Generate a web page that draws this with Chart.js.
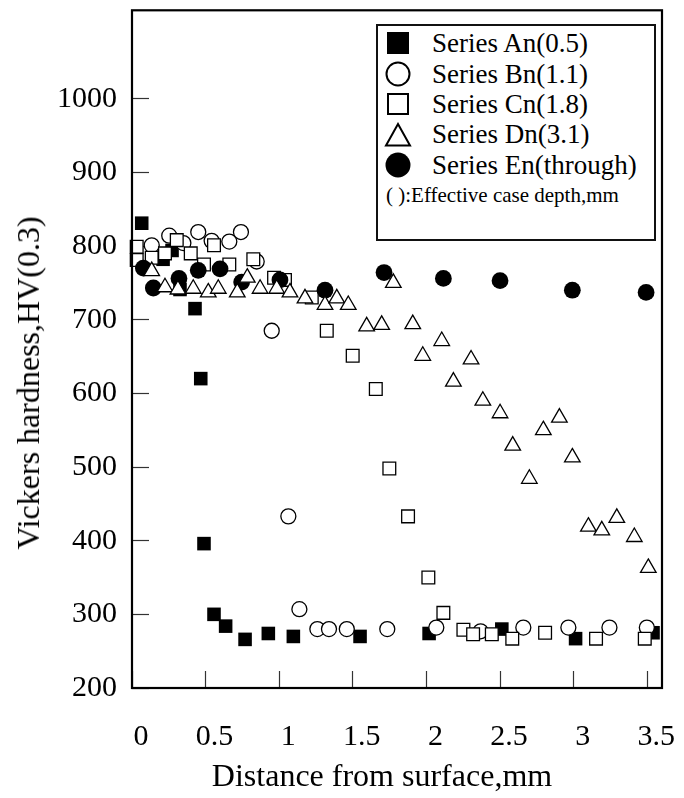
<!DOCTYPE html>
<html>
<head>
<meta charset="utf-8">
<script src="https://cdn.jsdelivr.net/npm/chart.js@4.4.1/dist/chart.umd.min.js"></script>
<style>
  html, body { margin: 0; padding: 0; background: #fff; }
  #wrap { position: relative; width: 684px; height: 798px; font-family: "Liberation Serif", "Times New Roman", serif; color: #000; }
  #hvChart { position: absolute; left: 0; top: 0; }
  .axis-title { position: absolute; font-size: 32px; line-height: 1; white-space: nowrap; transform: translate(-50%, -50%); }
  #yTitle { transform: translate(-50%, -50%) rotate(-90deg); }
  #legend { position: absolute; left: 376px; top: 24px; width: 280px; height: 217px; box-sizing: border-box; border: 2px solid #111; background: #fff; }
  .row { position: absolute; left: 54px; height: 30px; line-height: 30px; font-size: 27px; white-space: nowrap; }
  .row.note { font-size: 21px; left: 8px; }
  .mark { position: absolute; }
</style>
</head>
<body>
<div id="wrap">
  <canvas id="hvChart" width="684" height="798"></canvas>
  <div class="axis-title" id="yTitle" style="left:27.5px; top:383px;">Vickers hardness,HV(0.3)</div>
  <div class="axis-title" id="xTitle" style="left:382px; top:775px;">Distance from surface,mm</div>
  <div id="legend"></div>
</div>
<script>
const FONT = "'Liberation Serif', 'Times New Roman', serif";
const el = (id) => document.getElementById(id);

// axis ticks
const xTicks = [0, 0.5, 1, 1.5, 2, 2.5, 3, 3.5];
const yTicks = [200, 300, 400, 500, 600, 700, 800, 900, 1000];

// Series An(0.5)
const aX = [0.066, 0.211, 0.272, 0.326, 0.428, 0.467, 0.489, 0.557, 0.636, 0.768, 0.926, 1.096, 1.549, 2.018, 2.512, 3.013, 3.539];
const aY = [831, 782, 794, 741, 715, 620, 396, 300, 284, 266, 274, 270, 270, 274, 280, 267, 275];
// Series Bn(1.1)
const bX = [0.134, 0.253, 0.349, 0.450, 0.541, 0.661, 0.740, 0.847, 0.949, 1.062, 1.137, 1.259, 1.338, 1.459, 1.734, 2.067, 2.368, 2.658, 2.964, 3.243, 3.497];
const bY = [801, 814, 804, 819, 807, 806, 819, 779, 685, 433, 307, 280, 280, 280, 280, 282, 277, 282, 282, 282, 282];
// Series Cn(1.8)
const cX = [0.032, 0.032, 0.134, 0.224, 0.304, 0.399, 0.489, 0.557, 0.661, 0.824, 0.965, 1.039, 1.221, 1.323, 1.499, 1.656, 1.748, 1.875, 2.013, 2.115, 2.251, 2.317, 2.444, 2.583, 2.806, 3.152, 3.483];
const cY = [799, 781, 784, 790, 808, 790, 775, 801, 775, 782, 757, 754, 730, 685, 651, 606, 498, 433, 350, 302, 279, 273, 273, 267, 275, 267, 267];
// Series Dn(3.1)
const dX = [0.134, 0.224, 0.312, 0.416, 0.518, 0.586, 0.715, 0.783, 0.870, 0.983, 1.073, 1.175, 1.311, 1.391, 1.469, 1.594, 1.696, 1.775, 1.907, 1.975, 2.104, 2.183, 2.303, 2.383, 2.500, 2.586, 2.699, 2.794, 2.903, 2.991, 3.100, 3.191, 3.293, 3.412, 3.507];
const dY = [766, 744, 741, 742, 737, 742, 737, 757, 742, 742, 737, 729, 720, 729, 720, 691, 693, 750, 694, 651, 671, 616, 646, 590, 573, 529, 484, 550, 567, 513, 419, 414, 431, 405, 363];
// Series En(through)
const eX = [0.077, 0.145, 0.319, 0.450, 0.598, 0.745, 1.005, 1.311, 1.712, 2.115, 2.500, 2.991, 3.492];
const eY = [770, 743, 756, 767, 769, 751, 754, 740, 764, 756, 753, 740, 737];

const legendRows = [
  { label: "Series An(0.5)", mark: "fsquare", cy: 17 },
  { label: "Series Bn(1.1)", mark: "circle", cy: 48 },
  { label: "Series Cn(1.8)", mark: "square", cy: 78 },
  { label: "Series Dn(3.1)", mark: "triangle", cy: 108 },
  { label: "Series En(through)", mark: "fcircle", cy: 139 },
];
const legendNote = "( ):Effective case depth,mm";

const pts = (xs, ys) => xs.map((x, i) => ({ x, y: ys[i] }));

function series(label, xs, ys, style, radius, filled, order) {
  return {
    label, data: pts(xs, ys), order,
    pointStyle: style, pointRadius: radius, pointHoverRadius: radius,
    backgroundColor: filled ? "#000" : "#fff", borderColor: "#000",
    pointBorderWidth: filled ? 0 : 1.3, pointHoverBorderWidth: filled ? 0 : 1.3,
    showLine: false, clip: false,
  };
}

const framePlugin = {
  id: "frame",
  afterDraw(chart) {
    const { ctx, chartArea: a } = chart;
    ctx.save();
    ctx.strokeStyle = "#000";
    ctx.lineWidth = 2.2;
    ctx.strokeRect(a.left, a.top, a.right - a.left, a.bottom - a.top);
    ctx.restore();
  }
};

const tickGrid = { drawOnChartArea: false, drawTicks: true, tickLength: -17, tickWidth: 1.2, tickColor: "#333" };

new Chart(el("hvChart"), {
  type: "scatter",
  data: {
    datasets: [
      series("Series An(0.5)", aX, aY, "rect", 9.6, true, 5),
      series("Series Bn(1.1)", bX, bY, "circle", 7.5, false, 4),
      series("Series Cn(1.8)", cX, cY, "rect", 9, false, 3),
      series("Series En(through)", eX, eY, "circle", 8.4, true, 2),
      series("Series Dn(3.1)", dX, dY, "triangle", 9, false, 1),
    ]
  },
  options: {
    responsive: false,
    devicePixelRatio: 1,
    animation: false,
    events: [],
    layout: { padding: { top: 6, right: 22, left: 0, bottom: 0 } },
    plugins: { legend: { display: false }, tooltip: { enabled: false } },
    scales: {
      x: {
        type: "linear", min: 0, max: 3.6,
        afterBuildTicks: (s) => { s.ticks = xTicks.map((v) => ({ value: v })); },
        afterFit: (s) => { s.height = 110; s.paddingLeft = 0; s.paddingRight = 0; },
        grid: tickGrid,
        border: { display: false },
        ticks: { padding: 48, labelOffset: 9, autoSkip: false, maxRotation: 0, color: "#000", font: { family: FONT, size: 30 }, callback: (v) => String(v) }
      },
      y: {
        type: "linear", min: 200, max: 1120,
        afterBuildTicks: (s) => { s.ticks = yTicks.map((v) => ({ value: v })); },
        afterFit: (s) => { s.width = 132; s.paddingTop = 0; s.paddingBottom = 0; },
        grid: tickGrid,
        border: { display: false },
        ticks: { padding: 32, autoSkip: false, color: "#000", font: { family: FONT, size: 30 }, callback: (v) => String(v) }
      }
    }
  },
  plugins: [framePlugin]
});

function markSvg(kind) {
  const s = 'stroke="#000" stroke-width="2"';
  if (kind === "fsquare") return `<svg width="24" height="24"><rect x="1" y="1" width="22" height="22" fill="#000"/></svg>`;
  if (kind === "circle") return `<svg width="26" height="26"><circle cx="13" cy="13" r="11.5" fill="none" ${s}/></svg>`;
  if (kind === "square") return `<svg width="24" height="24"><rect x="2" y="2" width="20" height="20" fill="none" ${s}/></svg>`;
  if (kind === "triangle") return `<svg width="28" height="25"><polygon points="14,2 26,23.5 2,23.5" fill="none" ${s}/></svg>`;
  return `<svg width="26" height="26"><circle cx="13" cy="13" r="12.5" fill="#000"/></svg>`;
}

function buildLegend() {
  const box = el("legend");
  let html = "";
  for (const row of legendRows) {
    const size = row.mark === "triangle" ? [28, 25] : (row.mark === "fsquare" || row.mark === "square") ? [24, 24] : [26, 26];
    html += `<div class="mark" style="left:${20 - size[0] / 2}px; top:${row.cy - size[1] / 2}px;">${markSvg(row.mark)}</div>`;
    html += `<div class="row" style="top:${row.cy - 15}px;">${row.label}</div>`;
  }
  html += `<div class="row note" style="top:${169 - 15}px;">${legendNote}</div>`;
  box.innerHTML = html;
}

buildLegend();
</script>
</body>
</html>
